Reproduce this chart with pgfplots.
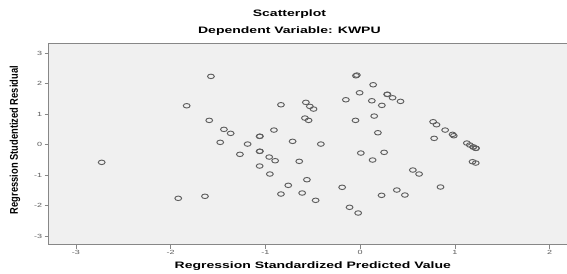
\documentclass[border=0pt]{standalone}
\usepackage{pgfplots}
\pgfplotsset{compat=1.18}
\usepackage{fontspec}
\setmainfont{Liberation Sans}
\definecolor{bgc}{RGB}{240,240,240}
\definecolor{framec}{RGB}{135,135,135}
\definecolor{markc}{RGB}{95,95,95}
\definecolor{tickc}{RGB}{90,90,90}
\begin{document}
\begin{tikzpicture}
\begin{axis}[
  scale only axis, width=389.35pt, height=150.9pt,
  xmin=-3.289, xmax=2.19, ymin=-3.28, ymax=3.32,
  clip mode=individual,
  axis background/.style={fill=bgc},
  axis line style={framec, line width=0.9pt},
  xtick={-3,-2,-1,0,1,2}, ytick={-3,-2,-1,0,1,2,3},
  xticklabels={-3,-2,-1,0,1,2}, yticklabels={-3,-2,-1,0,1,2,3},
  tick align=outside, tick pos=left,
  major tick length=3pt,
  tick style={framec, line width=0.6pt},
  ticklabel style={font=\fontsize{4.5}{5}\selectfont, text=tickc, xscale=1.5, inner sep=1pt},
]
\addplot[only marks, mark=o, mark size=1.7pt, mark options={draw=markc, line width=0.7pt, xscale=1.5}] coordinates {
(-1.831,1.272) (-2.728,-0.584) (-1.920,-1.764) (-1.575,2.236)
(-0.836,1.305) (-0.573,1.384) (-0.531,1.252) (-0.492,1.164)
(-1.593,0.793) (-0.583,0.869) (-0.544,0.793) (-1.438,0.498)
(-1.367,0.367) (-0.910,0.475) (-1.061,0.269) (-1.058,0.272)
(-1.477,0.072) (-1.188,0.016) (-0.713,0.105) (-0.415,0.016)
(-1.269,-0.321) (-1.061,-0.223) (-1.058,-0.220) (-0.960,-0.410)
(-0.897,-0.531) (-0.643,-0.551) (-1.061,-0.705) (-0.953,-0.967)
(-0.562,-1.154) (-0.759,-1.338) (-0.836,-1.623) (-0.612,-1.590)
(-0.470,-1.830) (-1.638,-1.698)
(-0.045,2.256) (-0.035,2.279) (0.137,1.961) (-0.006,1.698)
(-0.151,1.469) (0.123,1.436) (0.285,1.646) (0.288,1.649)
(0.342,1.534) (0.426,1.416) (0.229,1.285) (-0.049,0.793)
(0.148,0.934) (0.187,0.387) (0.007,-0.279) (0.253,-0.256)
(0.131,-0.508) (0.556,-0.836) (0.622,-0.967) (-0.190,-1.403)
(0.226,-1.666) (0.387,-1.492) (0.472,-1.656) (-0.112,-2.059)
(-0.021,-2.246)
(0.770,0.748) (0.806,0.649) (0.781,0.203) (0.848,-1.393)
(0.897,0.475) (0.975,0.334) (0.988,0.289) (1.126,0.049)
(1.157,-0.016) (1.192,-0.082) (1.195,-0.079) (1.220,-0.125)
(1.223,-0.122) (1.186,-0.564) (1.220,-0.607)
};
\coordinate (sw) at (rel axis cs:0,0);
\coordinate (ne) at (rel axis cs:1,1);
\coordinate (tA) at (axis description cs:0.464,1);
\coordinate (xA) at (axis description cs:0.509,0);
\coordinate (yA) at (axis description cs:0,0.519);
\end{axis}
\node[font=\bfseries\fontsize{7}{8}\selectfont, xscale=1.5, anchor=center] at ([yshift=22pt]tA) {Scatterplot};
\node[font=\bfseries\fontsize{7}{8}\selectfont, xscale=1.5, anchor=center] at ([yshift=9pt]tA) {Dependent Variable: KWPU};
\node[font=\bfseries\fontsize{7}{8}\selectfont, xscale=1.5, anchor=center] at ([yshift=-16.5pt]xA) {Regression Standardized Predicted Value};
\node[font=\bfseries\fontsize{7}{8}\selectfont, rotate=90, yscale=1.2, anchor=center] at ([xshift=-25.1pt]yA) {Regression Studentized Residual};
\pgfresetboundingbox
\path[use as bounding box] ([xshift=-36.4pt,yshift=-21.4pt]sw) rectangle ([xshift=-0.5pt,yshift=32.5pt]ne);
\end{tikzpicture}
\end{document}
